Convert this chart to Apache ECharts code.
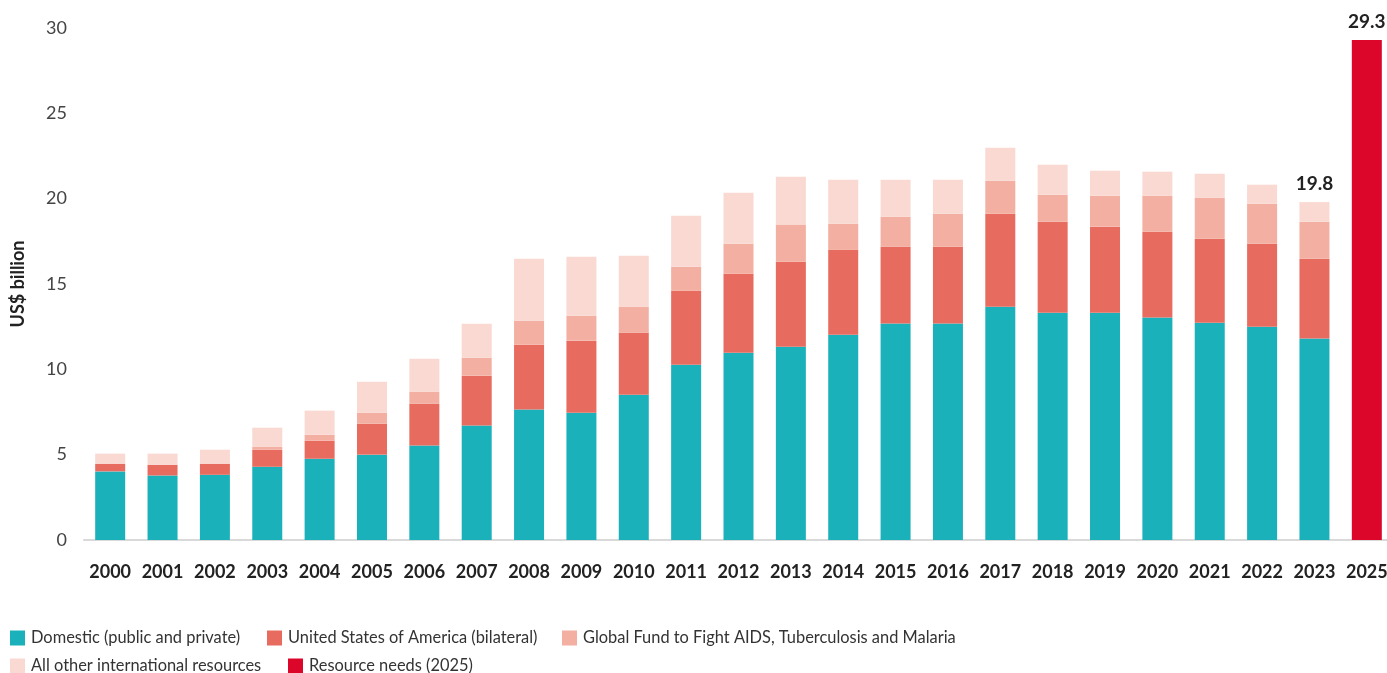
<!DOCTYPE html>
<html>
<head>
<meta charset="utf-8">
<script src="https://cdn.jsdelivr.net/npm/echarts@6/dist/echarts.min.js"></script>
<style>
    html, body { margin: 0; padding: 0; background: #fff; }
    #chart { width: 1387px; height: 673px; }
</style>
</head>
<body>
<div id="chart"></div>
<script>
    // data (US$ billion)
    var years = ['2000','2001','2002','2003','2004','2005','2006','2007','2008','2009','2010','2011','2012','2013','2014','2015','2016','2017','2018','2019','2020','2021','2022','2023','2025'];
    var domestic = [4.02, 3.78, 3.82, 4.29, 4.76, 5.0, 5.54, 6.71, 7.65, 7.46, 8.51, 10.27, 10.97, 11.32, 12.03, 12.69, 12.69, 13.67, 13.32, 13.32, 13.03, 12.73, 12.5, 11.8, null];
    var usBilateral = [0.45, 0.63, 0.65, 1.0, 1.06, 1.81, 2.44, 2.92, 3.79, 4.22, 3.63, 4.33, 4.63, 4.98, 4.97, 4.49, 4.49, 5.45, 5.33, 5.04, 5.03, 4.92, 4.86, 4.68, null];
    var globalFund = [0, 0, 0, 0.18, 0.35, 0.65, 0.71, 1.05, 1.41, 1.46, 1.53, 1.41, 1.76, 2.18, 1.53, 1.76, 1.94, 1.93, 1.58, 1.81, 2.11, 2.4, 2.34, 2.17, null];
    var otherIntl = [0.59, 0.65, 0.82, 1.11, 1.41, 1.81, 1.93, 1.99, 3.63, 3.46, 2.99, 2.99, 2.99, 2.8, 2.58, 2.17, 1.99, 1.93, 1.76, 1.47, 1.41, 1.41, 1.12, 1.15, null];
    var needs = [null, null, null, null, null, null, null, null, null, null, null, null, null, null, null, null, null, null, null, null, null, null, null, null, 29.3];
    var yTicks = [0, 5, 10, 15, 20, 25, 30];

    var names = ['Domestic (public and private)', 'United States of America (bilateral)', 'Global Fund to Fight AIDS, Tuberculosis and Malaria', 'All other international resources', 'Resource needs (2025)'];
    var colors = ['#1bb1bb', '#e86b5f', '#f3afa1', '#f9d9d2', '#dc062b'];

    var font = 'Lato, "Noto Sans", sans-serif';
    var topLabel = {show: true, position: 'top', distance: 9, color: '#222', fontSize: 19, fontWeight: 'bold', fontFamily: font};

    function withLabel(arr, idx, text) {
        return arr.map(function (v, i) {
            if (i === idx) return {value: v, label: Object.assign({}, topLabel, {formatter: text})};
            return v;
        });
    }

    function legendAt(left, top, idx) {
        return {
            left: left, top: top, padding: 0,
            itemWidth: 15, itemHeight: 15, itemGap: 0,
            icon: 'rect',
            textStyle: {color: '#333', fontSize: 16.4, fontFamily: font, padding: [0, 0, 0, 1]},
            data: [{name: names[idx], itemStyle: {color: colors[idx]}}],
            selectedMode: false
        };
    }

    var option = {
        animation: false,
        backgroundColor: '#fff',
        legend: [
            legendAt(10, 630, 0),
            legendAt(267, 630, 1),
            legendAt(562, 630, 2),
            legendAt(10, 658, 3),
            legendAt(288, 658, 4)
        ],
        grid: {left: 84, top: 28, right: -6, bottom: 133, containLabel: false, outerBoundsMode: 'none'},
        xAxis: {
            type: 'category',
            data: years,
            axisLine: {lineStyle: {color: '#d9d9d9', width: 2}},
            axisTick: {show: false},
            axisLabel: {interval: 0, color: '#222', fontSize: 18, fontWeight: 'bold', fontFamily: font, margin: 23}
        },
        yAxis: {
            type: 'value',
            min: yTicks[0],
            max: yTicks[yTicks.length - 1],
            interval: 5,
            name: 'US$ billion',
            nameLocation: 'middle',
            nameRotate: 90,
            nameGap: 57,
            nameTextStyle: {color: '#222', fontSize: 18, fontWeight: 'bold', fontFamily: font},
            axisLine: {show: false},
            axisTick: {show: false},
            splitLine: {show: false},
            axisLabel: {color: '#444', fontSize: 18, fontFamily: font, margin: 17}
        },
        series: [
            {name: names[0], type: 'bar', stack: 'total', barWidth: 30, itemStyle: {color: colors[0]}, data: domestic},
            {name: names[1], type: 'bar', stack: 'total', barWidth: 30, itemStyle: {color: colors[1]}, data: usBilateral},
            {name: names[2], type: 'bar', stack: 'total', barWidth: 30, itemStyle: {color: colors[2]}, data: globalFund},
            {name: names[3], type: 'bar', stack: 'total', barWidth: 30, itemStyle: {color: colors[3]}, data: withLabel(otherIntl, 23, '19.8')},
            {name: names[4], type: 'bar', stack: 'total', barWidth: 30, itemStyle: {color: colors[4]}, data: withLabel(needs, 24, '29.3')}
        ]
    };

    var myChart = echarts.init(document.getElementById('chart'));
    myChart.setOption(option);
</script>
</body>
</html>
